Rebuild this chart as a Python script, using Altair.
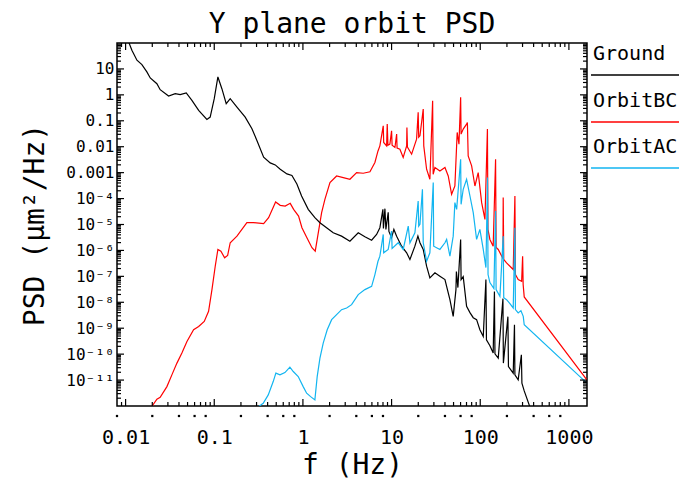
import altair as alt
import numpy as np
import pandas as pd

# ---------------- text ----------------
title_text = "Y plane orbit PSD"
x_title = "f (Hz)"
y_title = "PSD (μm²/Hz)"
series_names = ["Ground", "OrbitBC", "OrbitAC"]
series_colors = ["#000000", "#ff0000", "#12b5f0"]

x_tick_values = [0.01, 0.1, 1, 10, 100, 1000]
x_tick_labels = ["0.01", "0.1", "1", "10", "100", "1000"]
y_tick_values = [10, 1, 0.1, 0.01, 0.001, 1e-4, 1e-5, 1e-6, 1e-7, 1e-8, 1e-9, 1e-10, 1e-11]
y_tick_labels = ["10", "1", "0.1", "0.01", "0.001", "10⁻⁴", "10⁻⁵", "10⁻⁶", "10⁻⁷",
                 "10⁻⁸", "10⁻⁹", "10⁻¹⁰", "10⁻¹¹"]
x_dot_values = [0.008, 0.02, 0.04, 0.06, 0.08, 0.2, 0.4, 0.6, 0.8, 2, 4, 6, 8,
                20, 40, 60, 80, 200, 400, 600, 800]

# ---------------- data (log10 of values) ----------------
ground_log_f = [
    -2.064, -1.966, -1.929, -1.872, -1.816, -1.760, -1.722, -1.647, -1.610, -1.515,
    -1.440, -1.384, -1.316, -1.252, -1.176, -1.083, -1.046, -1.000, -0.959, -0.914,
    -0.865, -0.820, -0.744, -0.651, -0.575, -0.519, -0.443, -0.369, -0.312, -0.256,
    -0.180, -0.124, -0.068, -0.015, 0.060, 0.135, 0.192, 0.267, 0.342, 0.436,
    0.530, 0.624, 0.699, 0.775, 0.831, 0.868, 0.902, 0.908, 0.925, 0.936,
    0.962, 0.970, 1.000, 1.026, 1.057, 1.113, 1.170, 1.207, 1.263, 1.297,
    1.320, 1.357, 1.395, 1.432, 1.489, 1.545, 1.602, 1.658, 1.695, 1.726,
    1.731, 1.748, 1.779, 1.784, 1.808, 1.846, 1.884, 1.921, 1.959, 1.996,
    2.034, 2.064, 2.070, 2.109, 2.146, 2.160, 2.166, 2.203, 2.256, 2.261,
    2.312, 2.318, 2.372, 2.386, 2.391, 2.428, 2.464, 2.470, 2.496, 2.572,
]
ground_log_psd = [
    2.547, 2.045, 1.723, 1.337, 1.166, 0.884, 0.652, 0.431, 0.199, -0.044,
    0.044, 0.006, 0.072, -0.211, -0.598, -0.946, -0.857, -0.149, 0.691, 0.238,
    -0.342, -0.149, -0.470, -0.857, -1.309, -1.758, -2.404, -2.625, -2.702, -2.868,
    -3.050, -3.112, -3.437, -3.901, -4.416, -4.737, -4.930, -5.124, -5.317, -5.449,
    -5.642, -5.317, -5.472, -5.604, -5.383, -5.124, -4.416, -5.151, -4.389, -5.190,
    -4.532, -5.267, -5.511, -5.190, -5.449, -5.836, -6.091, -6.350, -5.836, -5.449,
    -5.704, -5.963, -6.609, -7.058, -6.865, -6.996, -7.124, -7.898, -8.544, -7.511,
    -6.814, -7.433, -5.576, -7.124, -7.008, -8.157, -8.400, -8.594, -8.671, -9.058,
    -9.317, -7.124, -9.445, -9.677, -9.959, -7.588, -9.987, -10.153, -7.859, -10.346,
    -8.555, -10.478, -10.733, -8.865, -10.799, -10.992, -10.025, -11.120, -11.418, -12.153,
]

orbitbc_log_f = [
    -1.714, -1.647, -1.610, -1.534, -1.478, -1.421, -1.365, -1.308, -1.233, -1.176,
    -1.113, -1.064, -1.026, -0.989, -0.959, -0.925, -0.883, -0.849, -0.820, -0.744,
    -0.632, -0.556, -0.443, -0.387, -0.308, -0.256, -0.200, -0.143, -0.105, -0.049,
    -0.011, 0.045, 0.102, 0.139, 0.161, 0.211, 0.248, 0.305, 0.380, 0.455,
    0.530, 0.606, 0.680, 0.756, 0.812, 0.846, 0.868, 0.906, 0.911, 0.944,
    0.951, 0.959, 0.981, 1.000, 1.006, 1.038, 1.057, 1.062, 1.094, 1.131,
    1.170, 1.173, 1.179, 1.226, 1.282, 1.300, 1.306, 1.320, 1.357, 1.363,
    1.395, 1.432, 1.463, 1.469, 1.489, 1.545, 1.602, 1.639, 1.677, 1.714,
    1.740, 1.760, 1.779, 1.784, 1.808, 1.846, 1.855, 1.864, 1.903, 1.940,
    1.977, 2.016, 2.053, 2.081, 2.087, 2.109, 2.146, 2.173, 2.179, 2.203,
    2.256, 2.259, 2.265, 2.297, 2.335, 2.372, 2.391, 2.397, 2.428, 2.467,
    2.478, 2.484, 2.496, 3.203,
]
orbitbc_log_psd = [
    -12.07, -11.739, -11.662, -11.252, -10.799, -10.346, -9.959, -9.511, -9.058, -8.930,
    -8.737, -8.350, -7.511, -6.609, -5.963, -6.029, -6.284, -6.195, -5.704, -5.449,
    -4.930, -4.930, -4.969, -4.737, -4.133, -4.261, -4.288, -4.184, -4.416, -4.675,
    -5.124, -5.511, -5.897, -6.029, -5.576, -4.544, -4.029, -3.383, -3.128, -3.190,
    -3.255, -2.996, -3.023, -2.965, -2.609, -2.172, -1.967, -1.193, -1.836, -1.967,
    -1.128, -1.940, -1.901, -1.387, -1.940, -2.029, -1.515, -2.056, -2.095, -2.416,
    -1.967, -1.255, -2.017, -2.288, -1.708, -0.675, -1.631, -1.580, -0.547, -1.967,
    -2.868, -3.255, -0.226, -3.062, -2.803, -2.934, -2.803, -3.128, -3.836, -3.515,
    -1.449, -1.901, -0.095, -1.515, -1.321, -1.128, -1.062, -2.354, -2.741, -3.515,
    -2.996, -4.157, -4.803, -1.321, -5.190, -5.576, -5.836, -2.482, -5.886, -5.963,
    -6.311, -3.963, -6.350, -6.478, -6.609, -6.737, -3.901, -6.930, -7.124, -7.190,
    -6.222, -7.317, -7.793, -10.992,
]

orbitac_log_f = [
    -0.519, -0.448, -0.391, -0.335, -0.305, -0.259, -0.203, -0.147, -0.109, -0.053,
    0.003, 0.042, 0.087, 0.135, 0.161, 0.192, 0.229, 0.274, 0.324, 0.380,
    0.436, 0.493, 0.549, 0.624, 0.699, 0.775, 0.812, 0.846, 0.868, 0.906,
    0.911, 0.962, 1.000, 1.006, 1.075, 1.131, 1.188, 1.207, 1.263, 1.300,
    1.306, 1.320, 1.348, 1.357, 1.395, 1.432, 1.470, 1.475, 1.545, 1.602,
    1.621, 1.658, 1.695, 1.714, 1.734, 1.779, 1.784, 1.808, 1.846, 1.884,
    1.921, 1.959, 1.996, 2.034, 2.064, 2.082, 2.088, 2.109, 2.154, 2.173,
    2.179, 2.222, 2.259, 2.265, 2.297, 2.335, 2.372, 2.391, 2.397, 2.428,
    2.459, 2.485, 2.496, 3.203,
]
orbitac_log_psd = [
    -12.075, -11.894, -11.573, -11.058, -10.733, -10.799, -10.710, -10.501, -10.671, -10.865,
    -11.252, -11.507, -11.638, -11.766, -10.865, -10.153, -9.573, -9.058, -8.671, -8.478,
    -8.284, -8.219, -8.091, -7.704, -7.511, -7.383, -6.930, -6.428, -6.222, -5.383,
    -6.091, -5.963, -5.255, -5.925, -5.704, -5.963, -5.062, -5.704, -5.317, -4.095,
    -5.062, -4.996, -3.642, -5.704, -6.416, -6.091, -3.383, -5.836, -5.963, -5.704,
    -5.576, -6.222, -5.449, -4.157, -4.416, -2.482, -4.223, -3.642, -3.255, -3.901,
    -4.544, -5.576, -5.190, -5.963, -6.660, -3.190, -6.930, -7.240, -7.472, -4.482,
    -7.511, -7.770, -5.449, -7.820, -7.898, -8.052, -8.219, -5.124, -8.284, -8.412,
    -8.323, -8.544, -8.865, -11.120,
]

# ---------------- build table ----------------
series_data = {
    "Ground": (ground_log_f, ground_log_psd),
    "OrbitBC": (orbitbc_log_f, orbitbc_log_psd),
    "OrbitAC": (orbitac_log_f, orbitac_log_psd),
}
frames = []
for name, (lf, lp) in series_data.items():
    frames.append(pd.DataFrame({
        "series": name,
        "f": 10 ** np.array(lf, dtype=float),
        "psd": 10 ** np.array(lp, dtype=float),
        "i": np.arange(len(lf)),
    }))
data = pd.concat(frames, ignore_index=True)

W, H = 470, 363
FONT = "DejaVu Sans Mono"

xscale = alt.Scale(type="log", domain=[0.008, 1600], nice=False)
yscale = alt.Scale(type="log", domain=[1e-12, 100], nice=False)
cscale = alt.Scale(domain=series_names, range=series_colors)

x_label_expr = "[" + ",".join("'%s'" % s for s in x_tick_labels) + "][round(log(datum.value)/LN10) + 2]"
y_label_expr = "[" + ",".join("'%s'" % s for s in y_tick_labels) + "][1 - round(log(datum.value)/LN10)]"

x_axis = alt.Axis(values=x_tick_values, labelExpr=x_label_expr, title=x_title,
                  ticks=False, tickSize=0, domain=False, grid=False, labelOverlap=False,
                  labelFlush=False, labelPadding=21, labelFont=FONT, labelFontSize=20,
                  labelColor="black", titleFont=FONT, titleFontSize=28,
                  titleFontWeight="normal", titleColor="black", titleX=235, titleY=67,
                  titleBaseline="alphabetic", titleAlign="center")
y_axis = alt.Axis(values=y_tick_values, labelExpr=y_label_expr, title=y_title,
                  ticks=False, tickSize=0, domain=False, grid=False, labelOverlap=False,
                  labelFlush=False, labelPadding=3, labelFont=FONT, labelFontSize=16,
                  labelColor="black", titleFont=FONT, titleFontSize=28,
                  titleFontWeight="normal", titleColor="black", titleAngle=270,
                  titleX=-74, titleY=181.5, titleBaseline="alphabetic", titleAlign="center")

x_enc = alt.X("f:Q", scale=xscale, axis=x_axis)
y_enc = alt.Y("psd:Q", scale=yscale, axis=y_axis)

layers = []
for name in ["OrbitBC", "Ground", "OrbitAC"]:
    layers.append(
        alt.Chart(data).transform_filter(alt.datum.series == name)
        .mark_line(clip=True, strokeWidth=1.2)
        .encode(x=x_enc, y=y_enc,
                color=alt.Color("series:N", scale=cscale, legend=None),
                order=alt.Order("i:Q"))
    )

# inward ticks on all four sides (same field names/axes so the axes merge)
x_major = pd.DataFrame({"f": x_tick_values})
x_minor = pd.DataFrame({"f": [m * 10.0 ** k for k in range(-3, 4) for m in range(2, 10)
                              if 0.008 < m * 10.0 ** k < 1600]})
y_major = pd.DataFrame({"psd": y_tick_values})
y_minor = pd.DataFrame({"psd": [m * 10.0 ** k for k in range(-12, 2) for m in range(2, 10)]})

for df, ln in [(x_major, 7), (x_minor, 4)]:
    layers.append(alt.Chart(df).mark_rule(color="black", strokeWidth=1.2)
                  .encode(x=x_enc, y=alt.value(H), y2=alt.value(H - ln)))
    layers.append(alt.Chart(df).mark_rule(color="black", strokeWidth=1.2)
                  .encode(x=x_enc, y=alt.value(0), y2=alt.value(ln)))
for df, ln in [(y_major, 7), (y_minor, 4)]:
    layers.append(alt.Chart(df).mark_rule(color="black", strokeWidth=1.2)
                  .encode(y=y_enc, x=alt.value(0), x2=alt.value(ln)))
    layers.append(alt.Chart(df).mark_rule(color="black", strokeWidth=1.2)
                  .encode(y=y_enc, x=alt.value(W), x2=alt.value(W - ln)))

# small marks under the x axis
layers.append(alt.Chart(pd.DataFrame({"f": x_dot_values}))
              .mark_square(size=5, color="black", opacity=1, clip=False)
              .encode(x=x_enc, y=alt.value(H + 10)))

# legend at the right, label above a line segment
legend_text_y = [17, 64, 110]
legend_line_y = [32, 79, 125]
for name, col, ty, ly in zip(series_names, series_colors, legend_text_y, legend_line_y):
    ldf = pd.DataFrame({"t": [name]})
    layers.append(alt.Chart(ldf).mark_text(align="left", baseline="alphabetic", font=FONT,
                                           fontSize=20, color="black")
                  .encode(text="t:N", x=alt.value(476), y=alt.value(ty)))
    layers.append(alt.Chart(ldf).mark_rule(color=col, strokeWidth=1.5)
                  .encode(x=alt.value(474), x2=alt.value(565), y=alt.value(ly)))

chart = (
    alt.layer(*layers)
    .properties(
        width=W, height=H,
        title=alt.TitleParams(title_text, font=FONT, fontSize=28, fontWeight="normal",
                              color="black", anchor="middle", offset=3),
        autosize=alt.AutoSizeParams(type="none"),
        padding={"left": 117, "top": 43, "right": 92, "bottom": 76},
        background="white",
    )
    .configure_view(stroke="black", strokeWidth=1.5)
)

chart.save("out.html", embed_options={"renderer": "svg", "actions": False})
